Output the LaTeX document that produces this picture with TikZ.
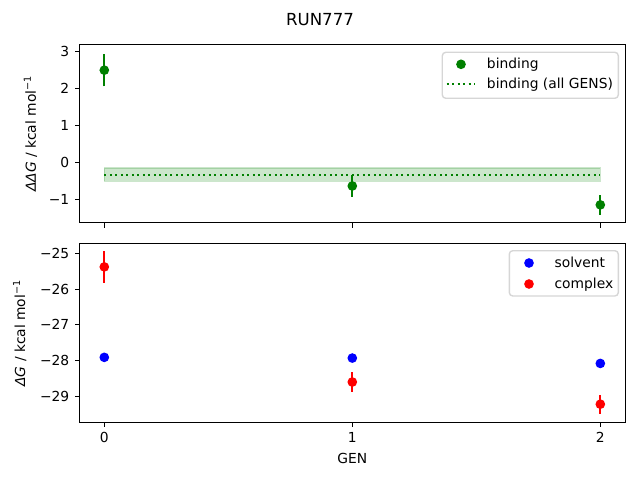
\documentclass[tikz,border=0pt]{standalone}
\usepackage{fontspec}
\setmainfont{DejaVu Sans}
\definecolor{mplgreen}{HTML}{008000}
\definecolor{legendedge}{HTML}{D6D6D6}
\begin{document}
\begin{tikzpicture}[x=0.72bp,y=-0.72bp,>=latex,
  font=\fontsize{10}{12}\selectfont,
  spine/.style={line width=0.8pt},
  tickmark/.style={line width=0.8pt},
  errbar/.style={line width=1.5pt},
  dotline/.style={mplgreen,line width=1.5pt,dash pattern=on 1.5pt off 2.475pt},
  legendbox/.style={draw=legendedge,fill=white,line width=1pt,rounded corners=2.5pt},
  entry/.style={anchor=base west,inner sep=0pt}]
\useasboundingbox (0,0) rectangle (640,480);

\node (title) at (320,12.7)[anchor=north,inner sep=0pt,font=\fontsize{12}{14}\selectfont]{RUN777};

% top panel: binding
\begin{scope}[shift={(104.3,162.3)},x=178.56bp,y=26.64bp]
\filldraw[mplgreen,opacity=0.2,line width=1pt] (0,-0.515) rectangle (2,-0.155);
\draw[dotline] (0,-0.335)--(2,-0.335);
\foreach \g/\v/\e in {0/2.49/0.44,1/-0.64/0.29,2/-1.15/0.27}
{
    \draw[mplgreen,errbar] (\g,\v-\e)--(\g,\v+\e);
    \fill[mplgreen] (\g,\v) circle[radius=3.5pt];
}
\draw[spine] (-0.1,-1.632) rectangle (2.1,3.176);
\foreach \g in {0,1,2}
{
    \draw[tickmark] (\g,-1.632)--++(0,-3.5pt);
}
\foreach \v/\vtext in {3/3,2/2,1/1,0/0,-1/−1}
{
    \draw[tickmark] (-0.1,\v)--++(-3.5pt,0)node[left=3.5pt,inner sep=0pt](ytop\v){\vtext};
}
\end{scope}
\node (ylabtop) at (37.5,133.8)[rotate=90,anchor=south,inner sep=0pt]{\textit{ΔΔG} / kcal mol\textsuperscript{−1}};

\draw[legendbox] (442.3,52.3) rectangle (618.3,98.3);
\fill[mplgreen] (461,64.3) circle[radius=3.5pt];
\node[entry] (legbind) at (486.7,69){binding};
\draw[dotline] (446.7,84.3)--(475,84.3);
\node[entry] (legall) at (486.7,89){binding (all GENS)};

% bottom panel: solvent and complex
\begin{scope}[shift={(104.3,-640.45)},x=178.56bp,y=25.74bp]
\foreach \g/\v in {0/-27.91,1/-27.93,2/-28.08}
{
    \fill[blue] (\g,\v) circle[radius=3.5pt];
}
\foreach \g/\v/\e in {0/-25.38/0.44,1/-28.6/0.27,2/-29.22/0.27}
{
    \draw[red,errbar] (\g,\v-\e)--(\g,\v+\e);
    \fill[red] (\g,\v) circle[radius=3.5pt];
}
\draw[spine] (-0.1,-29.727) rectangle (2.1,-24.726);
\foreach \g in {0,1,2}
{
    \draw[tickmark] (\g,-29.727)--++(0,-3.5pt)node[below=3.5pt,inner sep=0pt](xt\g){\g};
}
\foreach \v/\vtext in {-25/−25,-26/−26,-27/−27,-28/−28,-29/−29}
{
    \draw[tickmark] (-0.1,\v)--++(-3.5pt,0)node[left=3.5pt,inner sep=0pt](ybot\v){\vtext};
}
\end{scope}
\node (ylabbot) at (26.8,333.2)[rotate=90,anchor=south,inner sep=0pt]{\textit{ΔG} / kcal mol\textsuperscript{−1}};
\node (xlab) at (352.4,452.7)[anchor=north,inner sep=0pt]{GEN};

\draw[legendbox] (509.3,250.7) rectangle (618.3,296);
\fill[blue] (529,263) circle[radius=3.5pt];
\node[entry] (legsolv) at (554.3,267.3){solvent};
\fill[red] (529,284) circle[radius=3.5pt];
\node[entry] (legcomp) at (554.3,288.3){complex};

\end{tikzpicture}
\end{document}
